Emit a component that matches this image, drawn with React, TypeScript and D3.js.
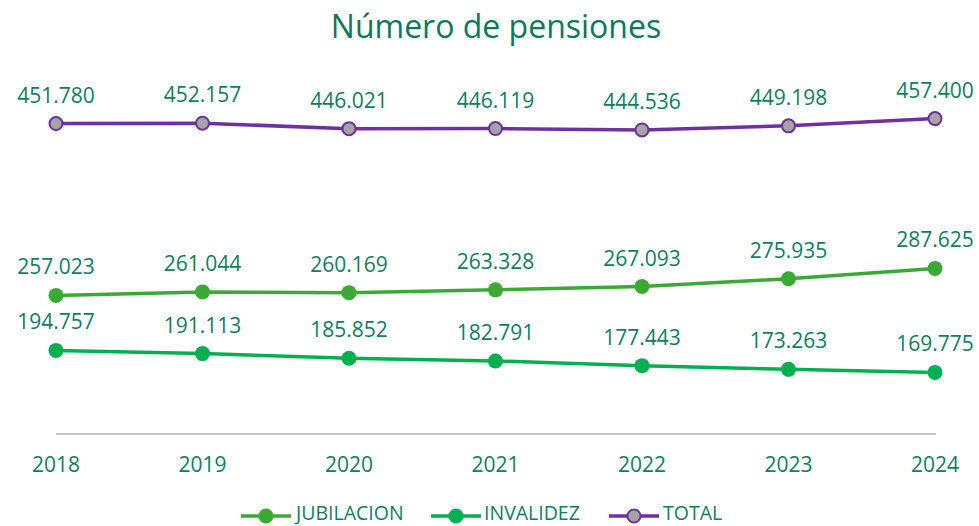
import React from "react";
import * as d3 from "d3";

const years = ["2018", "2019", "2020", "2021", "2022", "2023", "2024"];
const jubilacion = [257023, 261044, 260169, 263328, 267093, 275935, 287625];
const invalidez = [194757, 191113, 185852, 182791, 177443, 173263, 169775];
const total = [451780, 452157, 446021, 446119, 444536, 449198, 457400];

const W = 979;
const H = 526;
const FONT = "'Open Sans', sans-serif";
const TEXT = "#0E7F5F";

const series = [
  { name: "JUBILACION", values: jubilacion, color: "#3AAA35", fill: "#3AAA35", stroke: "#3AAA35" },
  { name: "INVALIDEZ", values: invalidez, color: "#00B050", fill: "#00B050", stroke: "#00B050" },
  { name: "TOTAL", values: total, color: "#7030A0", fill: "#A5A5A5", stroke: "#7030A0" },
];

const fmt = (v: number) => d3.format(",")(v).replace(/,/g, ".");

export default function App() {
  const x = d3.scalePoint<string>().domain(years).range([56, 935]);
  const y = d3.scaleLinear().domain([100000, 500000]).range([434, 81]);
  const line = d3.line<number>().x((_, i) => x(years[i])!).y((d) => y(d));

  const legendItems = [
    { ...series[0], lx: 241, tx: 296 },
    { ...series[1], lx: 431, tx: 484 },
    { ...series[2], lx: 609, tx: 663 },
  ];

  return (
    <svg width={W} height={H} style={{ position: "absolute", left: 0, top: 0, background: "#fff" }} fontFamily={FONT}>
      <text x={496} y={38} textAnchor="middle" fontSize={32} fill="#0B7A5A">Número de pensiones</text>
      <line x1={56} x2={936} y1={434} y2={434} stroke="#C4C4C4" strokeWidth={2} />
      {years.map((yr) => (
        <text key={yr} x={x(yr)!} y={472} textAnchor="middle" fontSize={21} fill={TEXT}>{yr}</text>
      ))}
      {series.map((s) => (
        <g key={s.name}>
          <path d={line(s.values)!} fill="none" stroke={s.color} strokeWidth={3.5} strokeLinejoin="round" />
          {s.values.map((v, i) => (
            <circle key={i} cx={x(years[i])!} cy={y(v)} r={s.name === "TOTAL" ? 6.5 : 7.5} fill={s.fill} stroke={s.stroke} strokeWidth={s.name === "TOTAL" ? 2 : 0} />
          ))}
          {s.values.map((v, i) => (
            <text key={"t" + i} x={x(years[i])!} y={y(v) - 21} textAnchor="middle" fontSize={21} fill={TEXT}>{fmt(v)}</text>
          ))}
        </g>
      ))}
      {legendItems.map((s) => (
        <g key={"l" + s.name}>
          <line x1={s.lx} x2={s.lx + 50} y1={516} y2={516} stroke={s.color} strokeWidth={3.5} />
          <circle cx={s.lx + 25} cy={516} r={s.name === "TOTAL" ? 6.5 : 7.5} fill={s.fill} stroke={s.stroke} strokeWidth={s.name === "TOTAL" ? 2 : 0} />
          <text x={s.tx} y={520} fontSize={19.5} fill={TEXT}>{s.name}</text>
        </g>
      ))}
    </svg>
  );
}
